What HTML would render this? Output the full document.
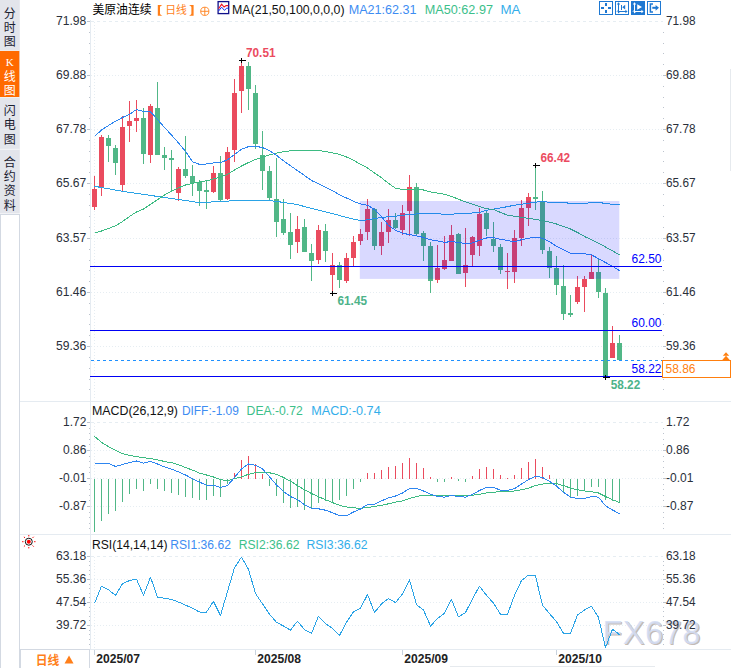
<!DOCTYPE html>
<html><head><meta charset="utf-8"><title>chart</title>
<style>html,body{margin:0;padding:0;background:#fff;overflow:hidden}svg{display:block}text{font-family:"Liberation Sans","Noto Sans CJK SC",sans-serif}</style></head>
<body>
<svg width="731" height="668" viewBox="0 0 731 668" font-family="Liberation Sans, Noto Sans CJK SC, sans-serif">
<rect width="731" height="668" fill="#fff"/>
<rect x="0" y="0" width="19.8" height="213.5" fill="#E3E5EB"/>
<rect x="0" y="50.8" width="19.3" height="46.2" fill="#FF6A00"/>
<rect x="0" y="50" width="19.8" height="0.8" fill="#F1F2F5"/>
<rect x="0" y="97" width="19.8" height="0.9" fill="#F1F2F5"/>
<rect x="0" y="148.8" width="19.8" height="1" fill="#F4F5F8"/>
<rect x="0.5" y="214" width="19" height="460" fill="#fff" stroke="#D3D9E2" shape-rendering="crispEdges"/>
<g font-size="12" fill="#1a2030" text-anchor="middle" style="font-family:'Liberation Sans','Noto Sans CJK SC',sans-serif">
<text x="9.8" y="17.6">分</text>
<text x="9.8" y="31.5">时</text>
<text x="9.8" y="45.6">图</text>
</g>
<g font-size="12" fill="#fff" text-anchor="middle" style="font-family:'Liberation Sans','Noto Sans CJK SC',sans-serif">
<text x="9.8" y="80.7">线</text>
<text x="9.8" y="94.8">图</text>
</g>
<text x="9.7" y="65.5" font-size="11" fill="#fff" text-anchor="middle" font-weight="normal" style="font-family:Liberation Serif,serif">K</text>
<g font-size="12" fill="#1a2030" text-anchor="middle" style="font-family:'Liberation Sans','Noto Sans CJK SC',sans-serif">
<text x="9.8" y="115.1">闪</text>
<text x="9.8" y="129.2">电</text>
<text x="9.8" y="143.7">图</text>
</g>
<g font-size="12" fill="#1a2030" text-anchor="middle" style="font-family:'Liberation Sans','Noto Sans CJK SC',sans-serif">
<text x="9.8" y="166.5">合</text>
<text x="9.8" y="180.9">约</text>
<text x="9.8" y="195.4">资</text>
<text x="9.8" y="209.8">料</text>
</g>
<g stroke="#E6EDF2" stroke-width="1" shape-rendering="crispEdges" fill="none">
<path d="M91 21.5H663" stroke-dasharray="3 3"/>
<path d="M91 75.5 H663" stroke-dasharray="1 2"/>
<path d="M91 129.5 H663" stroke-dasharray="1 2"/>
<path d="M91 183.5 H663" stroke-dasharray="1 2"/>
<path d="M91 238.5 H663" stroke-dasharray="1 2"/>
<path d="M91 292.5 H663" stroke-dasharray="1 2"/>
<path d="M91 346.5 H663" stroke-dasharray="1 2"/>
<path d="M94.5 22V400" stroke-dasharray="1 2"/>
<path d="M91 422.5H663" stroke-dasharray="3 3"/>
<path d="M91 450.5 H663" stroke-dasharray="1 2"/>
<path d="M91 478.5 H663" stroke-dasharray="1 2"/>
<path d="M91 506.5 H663" stroke-dasharray="1 2"/>
<path d="M94.5 423V534" stroke-dasharray="1 2"/>
<path d="M91 556.5H663" stroke-dasharray="3 3"/>
<path d="M91 579.5 H663" stroke-dasharray="1 2"/>
<path d="M91 602.5 H663" stroke-dasharray="1 2"/>
<path d="M91 625.5 H663" stroke-dasharray="1 2"/>
<path d="M94.5 557V649" stroke-dasharray="1 2"/>
</g>
<g font-size="32.5" font-weight="normal" letter-spacing="0.55"><text x="603.5" y="644.7" fill="#7A6458" fill-opacity="0.45">FX678</text><text x="602.4" y="643.6" fill="#D3DDF4" fill-opacity="0.88">FX678</text></g>
<g stroke="#E5EBF1" stroke-width="1" shape-rendering="crispEdges">
<path d="M90.5 20V650"/>
<path d="M20 401.5H731"/><path d="M20 534.5H731"/><path d="M20 649.5H731"/>
</g>
<g fill="#BCC3CD" shape-rendering="crispEdges">
<rect x="87" y="21" width="3" height="1"/>
<rect x="87" y="75" width="3" height="1"/>
<rect x="663" y="75" width="3" height="1"/>
<rect x="87" y="129" width="3" height="1"/>
<rect x="663" y="129" width="3" height="1"/>
<rect x="87" y="183" width="3" height="1"/>
<rect x="663" y="183" width="3" height="1"/>
<rect x="87" y="238" width="3" height="1"/>
<rect x="663" y="238" width="3" height="1"/>
<rect x="87" y="292" width="3" height="1"/>
<rect x="663" y="292" width="3" height="1"/>
<rect x="87" y="346" width="3" height="1"/>
<rect x="663" y="346" width="3" height="1"/>
<rect x="89" y="32" width="1" height="1"/>
<rect x="663" y="32" width="1" height="1"/>
<rect x="89" y="43" width="1" height="1"/>
<rect x="663" y="43" width="1" height="1"/>
<rect x="89" y="53" width="1" height="1"/>
<rect x="663" y="53" width="1" height="1"/>
<rect x="89" y="64" width="1" height="1"/>
<rect x="663" y="64" width="1" height="1"/>
<rect x="89" y="86" width="1" height="1"/>
<rect x="663" y="86" width="1" height="1"/>
<rect x="89" y="97" width="1" height="1"/>
<rect x="663" y="97" width="1" height="1"/>
<rect x="89" y="107" width="1" height="1"/>
<rect x="663" y="107" width="1" height="1"/>
<rect x="89" y="118" width="1" height="1"/>
<rect x="663" y="118" width="1" height="1"/>
<rect x="89" y="140" width="1" height="1"/>
<rect x="663" y="140" width="1" height="1"/>
<rect x="89" y="151" width="1" height="1"/>
<rect x="663" y="151" width="1" height="1"/>
<rect x="89" y="161" width="1" height="1"/>
<rect x="663" y="161" width="1" height="1"/>
<rect x="89" y="172" width="1" height="1"/>
<rect x="663" y="172" width="1" height="1"/>
<rect x="89" y="194" width="1" height="1"/>
<rect x="663" y="194" width="1" height="1"/>
<rect x="89" y="205" width="1" height="1"/>
<rect x="663" y="205" width="1" height="1"/>
<rect x="89" y="216" width="1" height="1"/>
<rect x="663" y="216" width="1" height="1"/>
<rect x="89" y="227" width="1" height="1"/>
<rect x="663" y="227" width="1" height="1"/>
<rect x="89" y="249" width="1" height="1"/>
<rect x="663" y="249" width="1" height="1"/>
<rect x="89" y="260" width="1" height="1"/>
<rect x="663" y="260" width="1" height="1"/>
<rect x="89" y="270" width="1" height="1"/>
<rect x="663" y="270" width="1" height="1"/>
<rect x="89" y="281" width="1" height="1"/>
<rect x="663" y="281" width="1" height="1"/>
<rect x="89" y="303" width="1" height="1"/>
<rect x="663" y="303" width="1" height="1"/>
<rect x="89" y="314" width="1" height="1"/>
<rect x="663" y="314" width="1" height="1"/>
<rect x="89" y="324" width="1" height="1"/>
<rect x="663" y="324" width="1" height="1"/>
<rect x="89" y="335" width="1" height="1"/>
<rect x="663" y="335" width="1" height="1"/>
<rect x="89" y="357" width="1" height="1"/>
<rect x="663" y="357" width="1" height="1"/>
<rect x="89" y="368" width="1" height="1"/>
<rect x="663" y="368" width="1" height="1"/>
<rect x="89" y="379" width="1" height="1"/>
<rect x="663" y="379" width="1" height="1"/>
<rect x="89" y="389" width="1" height="1"/>
<rect x="663" y="389" width="1" height="1"/>
<rect x="87" y="422" width="3" height="1"/>
<rect x="87" y="450" width="3" height="1"/>
<rect x="663" y="450" width="3" height="1"/>
<rect x="87" y="478" width="3" height="1"/>
<rect x="663" y="478" width="3" height="1"/>
<rect x="87" y="506" width="3" height="1"/>
<rect x="663" y="506" width="3" height="1"/>
<rect x="89" y="428" width="1" height="1"/>
<rect x="663" y="428" width="1" height="1"/>
<rect x="89" y="433" width="1" height="1"/>
<rect x="663" y="433" width="1" height="1"/>
<rect x="89" y="439" width="1" height="1"/>
<rect x="663" y="439" width="1" height="1"/>
<rect x="89" y="444" width="1" height="1"/>
<rect x="663" y="444" width="1" height="1"/>
<rect x="89" y="456" width="1" height="1"/>
<rect x="663" y="456" width="1" height="1"/>
<rect x="89" y="461" width="1" height="1"/>
<rect x="663" y="461" width="1" height="1"/>
<rect x="89" y="467" width="1" height="1"/>
<rect x="663" y="467" width="1" height="1"/>
<rect x="89" y="472" width="1" height="1"/>
<rect x="663" y="472" width="1" height="1"/>
<rect x="89" y="484" width="1" height="1"/>
<rect x="663" y="484" width="1" height="1"/>
<rect x="89" y="489" width="1" height="1"/>
<rect x="663" y="489" width="1" height="1"/>
<rect x="89" y="495" width="1" height="1"/>
<rect x="663" y="495" width="1" height="1"/>
<rect x="89" y="500" width="1" height="1"/>
<rect x="663" y="500" width="1" height="1"/>
<rect x="89" y="512" width="1" height="1"/>
<rect x="663" y="512" width="1" height="1"/>
<rect x="89" y="517" width="1" height="1"/>
<rect x="663" y="517" width="1" height="1"/>
<rect x="89" y="523" width="1" height="1"/>
<rect x="663" y="523" width="1" height="1"/>
<rect x="89" y="528" width="1" height="1"/>
<rect x="663" y="528" width="1" height="1"/>
<rect x="87" y="556" width="3" height="1"/>
<rect x="87" y="579" width="3" height="1"/>
<rect x="663" y="579" width="3" height="1"/>
<rect x="87" y="602" width="3" height="1"/>
<rect x="663" y="602" width="3" height="1"/>
<rect x="87" y="625" width="3" height="1"/>
<rect x="663" y="625" width="3" height="1"/>
<rect x="89" y="561" width="1" height="1"/>
<rect x="663" y="561" width="1" height="1"/>
<rect x="89" y="565" width="1" height="1"/>
<rect x="663" y="565" width="1" height="1"/>
<rect x="89" y="570" width="1" height="1"/>
<rect x="663" y="570" width="1" height="1"/>
<rect x="89" y="574" width="1" height="1"/>
<rect x="663" y="574" width="1" height="1"/>
<rect x="89" y="584" width="1" height="1"/>
<rect x="663" y="584" width="1" height="1"/>
<rect x="89" y="588" width="1" height="1"/>
<rect x="663" y="588" width="1" height="1"/>
<rect x="89" y="593" width="1" height="1"/>
<rect x="663" y="593" width="1" height="1"/>
<rect x="89" y="597" width="1" height="1"/>
<rect x="663" y="597" width="1" height="1"/>
<rect x="89" y="607" width="1" height="1"/>
<rect x="663" y="607" width="1" height="1"/>
<rect x="89" y="611" width="1" height="1"/>
<rect x="663" y="611" width="1" height="1"/>
<rect x="89" y="616" width="1" height="1"/>
<rect x="663" y="616" width="1" height="1"/>
<rect x="89" y="620" width="1" height="1"/>
<rect x="663" y="620" width="1" height="1"/>
<rect x="89" y="630" width="1" height="1"/>
<rect x="663" y="630" width="1" height="1"/>
<rect x="89" y="634" width="1" height="1"/>
<rect x="663" y="634" width="1" height="1"/>
<rect x="89" y="639" width="1" height="1"/>
<rect x="663" y="639" width="1" height="1"/>
<rect x="89" y="644" width="1" height="1"/>
<rect x="663" y="644" width="1" height="1"/>
</g>
<g shape-rendering="crispEdges">
<rect x="94" y="176.0" width="1" height="33.7" fill="#EA4B5E"/>
<rect x="92" y="189.0" width="5" height="17.5" fill="#EA4B5E"/>
<rect x="101" y="135.0" width="1" height="60.8" fill="#EA4B5E"/>
<rect x="99" y="136.7" width="5" height="50.8" fill="#EA4B5E"/>
<rect x="108" y="135.0" width="1" height="26.7" fill="#51B787"/>
<rect x="106" y="138.0" width="5" height="7.5" fill="#51B787"/>
<rect x="115" y="145.0" width="1" height="29.7" fill="#51B787"/>
<rect x="113" y="148.0" width="5" height="15.3" fill="#51B787"/>
<rect x="122" y="116.3" width="1" height="74.5" fill="#EA4B5E"/>
<rect x="120" y="127.0" width="5" height="57.7" fill="#EA4B5E"/>
<rect x="129" y="100.8" width="1" height="40.9" fill="#EA4B5E"/>
<rect x="127" y="120.8" width="5" height="5.0" fill="#EA4B5E"/>
<rect x="136" y="100.0" width="1" height="31.7" fill="#EA4B5E"/>
<rect x="134" y="118.3" width="5" height="2.5" fill="#EA4B5E"/>
<rect x="143" y="108.0" width="1" height="55.7" fill="#51B787"/>
<rect x="141" y="118.0" width="5" height="35.7" fill="#51B787"/>
<rect x="150" y="104.2" width="1" height="58.3" fill="#EA4B5E"/>
<rect x="148" y="106.2" width="5" height="48.3" fill="#EA4B5E"/>
<rect x="157" y="82.0" width="1" height="72.5" fill="#51B787"/>
<rect x="155" y="108.0" width="5" height="46.5" fill="#51B787"/>
<rect x="164" y="147.0" width="1" height="22.5" fill="#51B787"/>
<rect x="162" y="155.0" width="5" height="2.8" fill="#51B787"/>
<rect x="171" y="150.0" width="1" height="41.0" fill="#51B787"/>
<rect x="169" y="157.8" width="5" height="1.9" fill="#51B787"/>
<rect x="178" y="167.0" width="1" height="33.8" fill="#EA4B5E"/>
<rect x="176" y="168.8" width="5" height="23.7" fill="#EA4B5E"/>
<rect x="185" y="135.8" width="1" height="41.7" fill="#51B787"/>
<rect x="183" y="169.2" width="5" height="6.6" fill="#51B787"/>
<rect x="192" y="165.0" width="1" height="30.8" fill="#51B787"/>
<rect x="190" y="176.2" width="5" height="7.1" fill="#51B787"/>
<rect x="199" y="180.0" width="1" height="26.0" fill="#51B787"/>
<rect x="197" y="182.0" width="5" height="8.5" fill="#51B787"/>
<rect x="206" y="181.0" width="1" height="27.5" fill="#51B787"/>
<rect x="204" y="189.7" width="5" height="2.0" fill="#51B787"/>
<rect x="213" y="166.0" width="1" height="26.5" fill="#EA4B5E"/>
<rect x="211" y="173.0" width="5" height="18.5" fill="#EA4B5E"/>
<rect x="220" y="156.0" width="1" height="45.0" fill="#51B787"/>
<rect x="218" y="173.0" width="5" height="27.0" fill="#51B787"/>
<rect x="227" y="147.0" width="1" height="53.0" fill="#EA4B5E"/>
<rect x="225" y="152.0" width="5" height="47.0" fill="#EA4B5E"/>
<rect x="234" y="79.0" width="1" height="83.0" fill="#EA4B5E"/>
<rect x="232" y="92.5" width="5" height="57.0" fill="#EA4B5E"/>
<rect x="241" y="62.4" width="1" height="50.1" fill="#EA4B5E"/>
<rect x="239" y="66.0" width="5" height="24.5" fill="#EA4B5E"/>
<rect x="248" y="62.0" width="1" height="47.5" fill="#51B787"/>
<rect x="246" y="66.0" width="5" height="23.0" fill="#51B787"/>
<rect x="255" y="84.5" width="1" height="64.5" fill="#51B787"/>
<rect x="253" y="93.0" width="5" height="51.0" fill="#51B787"/>
<rect x="262" y="131.0" width="1" height="58.7" fill="#51B787"/>
<rect x="260" y="155.0" width="5" height="15.5" fill="#51B787"/>
<rect x="269" y="165.8" width="1" height="34.4" fill="#51B787"/>
<rect x="267" y="170.6" width="5" height="27.4" fill="#51B787"/>
<rect x="276" y="157.5" width="1" height="79.2" fill="#51B787"/>
<rect x="274" y="198.7" width="5" height="22.9" fill="#51B787"/>
<rect x="283" y="198.7" width="1" height="36.5" fill="#51B787"/>
<rect x="281" y="218.8" width="5" height="14.2" fill="#51B787"/>
<rect x="290" y="213.3" width="1" height="46.0" fill="#51B787"/>
<rect x="288" y="231.9" width="5" height="13.1" fill="#51B787"/>
<rect x="297" y="216.2" width="1" height="36.5" fill="#EA4B5E"/>
<rect x="295" y="228.6" width="5" height="13.2" fill="#EA4B5E"/>
<rect x="304" y="219.2" width="1" height="32.4" fill="#51B787"/>
<rect x="302" y="227.1" width="5" height="24.5" fill="#51B787"/>
<rect x="311" y="244.0" width="1" height="36.7" fill="#51B787"/>
<rect x="309" y="252.7" width="5" height="8.1" fill="#51B787"/>
<rect x="318" y="225.0" width="1" height="38.7" fill="#EA4B5E"/>
<rect x="316" y="230.2" width="5" height="29.8" fill="#EA4B5E"/>
<rect x="325" y="223.6" width="1" height="38.5" fill="#51B787"/>
<rect x="323" y="230.8" width="5" height="19.7" fill="#51B787"/>
<rect x="332" y="253.2" width="1" height="38.8" fill="#EA4B5E"/>
<rect x="330" y="265.2" width="5" height="9.5" fill="#EA4B5E"/>
<rect x="339" y="261.5" width="1" height="26.3" fill="#51B787"/>
<rect x="337" y="265.2" width="5" height="14.4" fill="#51B787"/>
<rect x="346" y="253.2" width="1" height="29.7" fill="#EA4B5E"/>
<rect x="344" y="258.2" width="5" height="22.5" fill="#EA4B5E"/>
<rect x="353" y="235.6" width="1" height="30.9" fill="#EA4B5E"/>
<rect x="351" y="241.8" width="5" height="16.4" fill="#EA4B5E"/>
<rect x="360" y="229.3" width="1" height="15.7" fill="#EA4B5E"/>
<rect x="358" y="234.1" width="5" height="7.0" fill="#EA4B5E"/>
<rect x="367" y="198.7" width="1" height="40.9" fill="#EA4B5E"/>
<rect x="365" y="209.0" width="5" height="22.9" fill="#EA4B5E"/>
<rect x="374" y="208.3" width="1" height="41.6" fill="#51B787"/>
<rect x="372" y="209.0" width="5" height="37.2" fill="#51B787"/>
<rect x="381" y="222.0" width="1" height="32.9" fill="#EA4B5E"/>
<rect x="379" y="231.9" width="5" height="14.3" fill="#EA4B5E"/>
<rect x="388" y="209.0" width="1" height="34.3" fill="#EA4B5E"/>
<rect x="386" y="219.9" width="5" height="12.0" fill="#EA4B5E"/>
<rect x="395" y="213.3" width="1" height="16.0" fill="#51B787"/>
<rect x="393" y="219.9" width="5" height="8.1" fill="#51B787"/>
<rect x="402" y="205.0" width="1" height="30.0" fill="#EA4B5E"/>
<rect x="400" y="213.0" width="5" height="17.0" fill="#EA4B5E"/>
<rect x="409" y="175.2" width="1" height="60.3" fill="#EA4B5E"/>
<rect x="407" y="187.2" width="5" height="23.8" fill="#EA4B5E"/>
<rect x="416" y="182.8" width="1" height="52.1" fill="#51B787"/>
<rect x="414" y="187.2" width="5" height="46.6" fill="#51B787"/>
<rect x="423" y="231.4" width="1" height="29.6" fill="#51B787"/>
<rect x="421" y="233.2" width="5" height="12.4" fill="#51B787"/>
<rect x="430" y="241.5" width="1" height="51.5" fill="#51B787"/>
<rect x="428" y="245.6" width="5" height="35.1" fill="#51B787"/>
<rect x="437" y="244.8" width="1" height="38.3" fill="#EA4B5E"/>
<rect x="435" y="268.2" width="5" height="12.0" fill="#EA4B5E"/>
<rect x="444" y="236.0" width="1" height="34.0" fill="#EA4B5E"/>
<rect x="442" y="260.1" width="5" height="8.7" fill="#EA4B5E"/>
<rect x="451" y="225.0" width="1" height="35.5" fill="#EA4B5E"/>
<rect x="449" y="234.9" width="5" height="25.6" fill="#EA4B5E"/>
<rect x="458" y="232.7" width="1" height="41.0" fill="#51B787"/>
<rect x="456" y="233.8" width="5" height="39.9" fill="#51B787"/>
<rect x="465" y="227.7" width="1" height="59.1" fill="#EA4B5E"/>
<rect x="463" y="264.9" width="5" height="7.7" fill="#EA4B5E"/>
<rect x="472" y="235.8" width="1" height="30.0" fill="#EA4B5E"/>
<rect x="470" y="236.9" width="5" height="17.7" fill="#EA4B5E"/>
<rect x="479" y="208.0" width="1" height="47.5" fill="#EA4B5E"/>
<rect x="477" y="213.5" width="5" height="32.1" fill="#EA4B5E"/>
<rect x="486" y="210.2" width="1" height="25.6" fill="#51B787"/>
<rect x="484" y="213.0" width="5" height="15.8" fill="#51B787"/>
<rect x="493" y="222.2" width="1" height="30.2" fill="#51B787"/>
<rect x="491" y="238.6" width="5" height="7.0" fill="#51B787"/>
<rect x="500" y="244.1" width="1" height="29.6" fill="#51B787"/>
<rect x="498" y="247.0" width="5" height="23.4" fill="#51B787"/>
<rect x="507" y="252.9" width="1" height="36.1" fill="#EA4B5E"/>
<rect x="505" y="271.0" width="5" height="1.0" fill="#EA4B5E"/>
<rect x="514" y="229.9" width="1" height="53.0" fill="#EA4B5E"/>
<rect x="512" y="238.0" width="5" height="33.5" fill="#EA4B5E"/>
<rect x="521" y="199.9" width="1" height="46.4" fill="#EA4B5E"/>
<rect x="519" y="208.0" width="5" height="29.5" fill="#EA4B5E"/>
<rect x="528" y="193.1" width="1" height="32.4" fill="#EA4B5E"/>
<rect x="526" y="197.0" width="5" height="10.6" fill="#EA4B5E"/>
<rect x="535" y="167.0" width="1" height="42.5" fill="#51B787"/>
<rect x="533" y="197.0" width="5" height="1.6" fill="#51B787"/>
<rect x="542" y="190.9" width="1" height="62.6" fill="#51B787"/>
<rect x="540" y="201.4" width="5" height="48.2" fill="#51B787"/>
<rect x="549" y="247.2" width="1" height="30.6" fill="#51B787"/>
<rect x="547" y="250.6" width="5" height="17.8" fill="#51B787"/>
<rect x="556" y="255.7" width="1" height="38.8" fill="#51B787"/>
<rect x="554" y="268.1" width="5" height="16.7" fill="#51B787"/>
<rect x="563" y="265.2" width="1" height="54.7" fill="#51B787"/>
<rect x="561" y="286.0" width="5" height="27.8" fill="#51B787"/>
<rect x="570" y="294.7" width="1" height="21.9" fill="#51B787"/>
<rect x="568" y="313.3" width="5" height="1.7" fill="#51B787"/>
<rect x="577" y="276.1" width="1" height="27.8" fill="#EA4B5E"/>
<rect x="575" y="287.0" width="5" height="15.4" fill="#EA4B5E"/>
<rect x="584" y="276.1" width="1" height="35.7" fill="#EA4B5E"/>
<rect x="582" y="279.0" width="5" height="7.6" fill="#EA4B5E"/>
<rect x="591" y="254.9" width="1" height="24.1" fill="#EA4B5E"/>
<rect x="589" y="271.7" width="5" height="7.3" fill="#EA4B5E"/>
<rect x="598" y="258.0" width="1" height="40.0" fill="#51B787"/>
<rect x="596" y="271.7" width="5" height="20.2" fill="#51B787"/>
<rect x="605" y="288.2" width="1" height="88.8" fill="#51B787"/>
<rect x="603" y="292.5" width="5" height="83.5" fill="#51B787"/>
<rect x="612" y="326.0" width="1" height="31.7" fill="#EA4B5E"/>
<rect x="610" y="342.9" width="5" height="14.8" fill="#EA4B5E"/>
<rect x="619" y="334.8" width="1" height="25.6" fill="#51B787"/>
<rect x="617" y="342.9" width="5" height="17.5" fill="#51B787"/>
</g>
<polyline fill="none" stroke="#2AA3E6" stroke-width="1.0" stroke-linejoin="round" shape-rendering="crispEdges" points="94.5,186.3 122.5,191.3 160.5,196.9 199.5,202.6 220.5,201.5 240.5,200.3 255.5,200.2 269.5,200.6 283.5,202.4 297.5,204.6 311.5,208.5 325.5,211.8 339.5,215.5 353.5,219.2 360.5,220.5 367.5,219.9 374.5,218.4 381.5,217.7 388.5,216.6 395.5,216.2 402.5,215.3 409.5,214.5 423.5,213.5 437.5,213.5 444.5,214.6 451.5,214.1 465.5,213.5 479.5,212.4 486.5,210.2 493.5,209.1 500.5,208.0 514.5,205.2 521.5,204.3 528.5,203.2 535.5,202.1 542.5,201.6 549.5,202.2 566.5,202.4 568.0,203.2 587.5,203.2 589.0,202.4 601.5,202.4 603.0,203.2 608.5,203.2 610.0,204.1 619.5,204.1"/>
<polyline fill="none" stroke="#3DBB82" stroke-width="1.0" stroke-linejoin="round" shape-rendering="crispEdges" points="94.5,233.3 101.5,231.0 108.5,228.5 115.5,225.8 122.5,221.5 129.5,216.5 136.5,212.0 143.5,209.0 150.5,204.3 157.5,199.8 164.5,195.0 171.5,191.0 178.5,187.8 185.5,185.0 192.5,183.4 199.5,182.0 206.5,180.8 213.5,179.0 220.5,177.0 227.5,174.5 234.5,170.0 241.5,166.0 248.5,162.5 255.5,159.5 262.5,157.0 269.5,154.8 276.5,153.2 283.5,151.6 290.5,150.9 297.5,150.2 304.5,150.2 311.5,150.2 318.5,150.4 325.5,151.5 332.5,152.9 339.5,154.4 346.5,157.0 353.5,160.3 360.5,164.2 367.5,168.0 374.5,173.0 381.5,177.8 388.5,183.3 395.5,188.3 402.5,189.3 409.5,189.1 416.5,189.0 423.5,190.0 430.5,192.0 437.5,193.1 444.5,194.2 451.5,196.4 458.5,199.2 465.5,201.9 472.5,204.3 479.5,206.5 486.5,208.7 493.5,209.5 500.5,212.4 507.5,215.2 514.5,216.3 521.5,217.4 528.5,218.3 535.5,219.4 542.5,220.5 549.5,222.2 556.5,224.0 563.5,226.5 570.5,229.0 577.5,232.5 584.5,236.5 591.5,239.8 598.5,243.2 605.5,247.0 612.5,250.8 619.5,254.9"/>
<polyline fill="none" stroke="#2E86F0" stroke-width="1.0" stroke-linejoin="round" shape-rendering="crispEdges" points="94.8,136.3 101.5,130.0 108.5,125.5 115.5,121.3 122.5,117.5 129.5,114.3 136.5,109.5 143.5,111.3 150.5,111.8 157.5,119.5 164.5,127.5 171.5,135.0 178.5,143.0 185.5,151.3 192.5,161.8 199.5,164.4 206.5,164.0 213.5,163.0 220.5,162.5 227.5,159.9 234.5,154.5 241.5,149.3 248.5,146.6 255.5,146.2 262.5,147.6 269.5,150.7 276.5,155.3 283.5,160.8 290.5,165.8 297.5,170.6 304.5,175.5 311.5,180.5 318.5,183.8 325.5,187.1 332.5,190.8 339.5,194.7 346.5,198.0 353.5,201.3 360.5,203.9 367.5,205.2 374.5,209.6 381.5,216.6 388.5,225.4 395.5,230.2 402.5,233.2 409.5,234.6 416.5,235.8 423.5,237.5 430.5,239.7 437.5,240.8 444.5,242.4 451.5,241.5 458.5,242.4 465.5,243.5 472.5,243.0 479.5,240.2 486.5,238.0 493.5,237.5 500.5,239.3 507.5,240.4 514.5,241.9 521.5,239.7 528.5,238.2 535.5,237.1 542.5,238.2 549.5,241.7 556.5,246.2 563.5,249.8 570.5,253.1 577.5,253.6 584.5,253.8 591.5,254.9 598.5,258.6 605.5,262.5 612.5,266.3 619.5,270.6"/>
<rect x="359.8" y="201" width="259.5" height="77.9" fill="#0000FF" fill-opacity="0.15"/>
<g stroke="#0000F5" stroke-width="1" shape-rendering="crispEdges">
<path d="M90 266.5H662"/><path d="M90 330.5H662"/><path d="M90 376.5H662"/>
</g>
<path d="M91 360.5H662" stroke="#1E90FF" stroke-width="1" stroke-dasharray="3 3" shape-rendering="crispEdges"/>
<path d="M239.0 60.5h7M241.5 58.0v5" stroke="#000" stroke-width="1" shape-rendering="crispEdges"/>
<path d="M330.0 293.5h7M332.5 291.0v5" stroke="#000" stroke-width="1" shape-rendering="crispEdges"/>
<path d="M533.0 165.5h7M535.5 163.0v5" stroke="#000" stroke-width="1" shape-rendering="crispEdges"/>
<path d="M603.0 377.5h7M605.5 375.0v5" stroke="#000" stroke-width="1" shape-rendering="crispEdges"/>
<text x="246" y="56.7" font-size="12" fill="#EB4B5F" text-anchor="start" font-weight="bold" textLength="29.5" lengthAdjust="spacingAndGlyphs" >70.51</text>
<text x="337.5" y="304.8" font-size="12" fill="#4DB38A" text-anchor="start" font-weight="bold" textLength="29.5" lengthAdjust="spacingAndGlyphs" >61.45</text>
<text x="540.5" y="162" font-size="12" fill="#EB4B5F" text-anchor="start" font-weight="bold" textLength="29.5" lengthAdjust="spacingAndGlyphs" >66.42</text>
<text x="610.7" y="388.5" font-size="12" fill="#4DB38A" text-anchor="start" font-weight="bold" textLength="29.5" lengthAdjust="spacingAndGlyphs" >58.22</text>
<text x="661.5" y="262.7" font-size="12" fill="#0000FF" text-anchor="end" font-weight="normal" textLength="30" lengthAdjust="spacingAndGlyphs" >62.50</text>
<text x="661.5" y="326.7" font-size="12" fill="#0000FF" text-anchor="end" font-weight="normal" textLength="30" lengthAdjust="spacingAndGlyphs" >60.00</text>
<text x="661.5" y="372.8" font-size="12" fill="#0000FF" text-anchor="end" font-weight="normal" textLength="30" lengthAdjust="spacingAndGlyphs" >58.22</text>
<text x="86.3" y="25.3" font-size="12" fill="#2A2F3A" text-anchor="end" font-weight="normal" textLength="30.3" lengthAdjust="spacingAndGlyphs" >71.98</text>
<text x="666" y="25.3" font-size="12" fill="#2A2F3A" text-anchor="start" font-weight="normal" textLength="29.5" lengthAdjust="spacingAndGlyphs" >71.98</text>
<text x="86.3" y="79.3" font-size="12" fill="#2A2F3A" text-anchor="end" font-weight="normal" textLength="30.3" lengthAdjust="spacingAndGlyphs" >69.88</text>
<text x="666" y="79.3" font-size="12" fill="#2A2F3A" text-anchor="start" font-weight="normal" textLength="29.5" lengthAdjust="spacingAndGlyphs" >69.88</text>
<text x="86.3" y="133.3" font-size="12" fill="#2A2F3A" text-anchor="end" font-weight="normal" textLength="30.3" lengthAdjust="spacingAndGlyphs" >67.78</text>
<text x="666" y="133.3" font-size="12" fill="#2A2F3A" text-anchor="start" font-weight="normal" textLength="29.5" lengthAdjust="spacingAndGlyphs" >67.78</text>
<text x="86.3" y="187.3" font-size="12" fill="#2A2F3A" text-anchor="end" font-weight="normal" textLength="30.3" lengthAdjust="spacingAndGlyphs" >65.67</text>
<text x="666" y="187.3" font-size="12" fill="#2A2F3A" text-anchor="start" font-weight="normal" textLength="29.5" lengthAdjust="spacingAndGlyphs" >65.67</text>
<text x="86.3" y="242.3" font-size="12" fill="#2A2F3A" text-anchor="end" font-weight="normal" textLength="30.3" lengthAdjust="spacingAndGlyphs" >63.57</text>
<text x="666" y="242.3" font-size="12" fill="#2A2F3A" text-anchor="start" font-weight="normal" textLength="29.5" lengthAdjust="spacingAndGlyphs" >63.57</text>
<text x="86.3" y="296.3" font-size="12" fill="#2A2F3A" text-anchor="end" font-weight="normal" textLength="30.3" lengthAdjust="spacingAndGlyphs" >61.46</text>
<text x="666" y="296.3" font-size="12" fill="#2A2F3A" text-anchor="start" font-weight="normal" textLength="29.5" lengthAdjust="spacingAndGlyphs" >61.46</text>
<text x="86.3" y="350.3" font-size="12" fill="#2A2F3A" text-anchor="end" font-weight="normal" textLength="30.3" lengthAdjust="spacingAndGlyphs" >59.36</text>
<text x="666" y="350.3" font-size="12" fill="#2A2F3A" text-anchor="start" font-weight="normal" textLength="29.5" lengthAdjust="spacingAndGlyphs" >59.36</text>
<text x="86.4" y="426.3" font-size="12" fill="#2A2F3A" text-anchor="end" font-weight="normal" >1.72</text>
<text x="666" y="426.3" font-size="12" fill="#2A2F3A" text-anchor="start" font-weight="normal" >1.72</text>
<text x="86.4" y="454.3" font-size="12" fill="#2A2F3A" text-anchor="end" font-weight="normal" >0.86</text>
<text x="666" y="454.3" font-size="12" fill="#2A2F3A" text-anchor="start" font-weight="normal" >0.86</text>
<text x="86.4" y="482.3" font-size="12" fill="#2A2F3A" text-anchor="end" font-weight="normal" >-0.01</text>
<text x="666" y="482.3" font-size="12" fill="#2A2F3A" text-anchor="start" font-weight="normal" >-0.01</text>
<text x="86.4" y="510.3" font-size="12" fill="#2A2F3A" text-anchor="end" font-weight="normal" >-0.87</text>
<text x="666" y="510.3" font-size="12" fill="#2A2F3A" text-anchor="start" font-weight="normal" >-0.87</text>
<text x="86.3" y="560.3" font-size="12" fill="#2A2F3A" text-anchor="end" font-weight="normal" textLength="30.3" lengthAdjust="spacingAndGlyphs" >63.18</text>
<text x="666" y="560.3" font-size="12" fill="#2A2F3A" text-anchor="start" font-weight="normal" textLength="29.5" lengthAdjust="spacingAndGlyphs" >63.18</text>
<text x="86.3" y="583.3" font-size="12" fill="#2A2F3A" text-anchor="end" font-weight="normal" textLength="30.3" lengthAdjust="spacingAndGlyphs" >55.36</text>
<text x="666" y="583.3" font-size="12" fill="#2A2F3A" text-anchor="start" font-weight="normal" textLength="29.5" lengthAdjust="spacingAndGlyphs" >55.36</text>
<text x="86.3" y="606.3" font-size="12" fill="#2A2F3A" text-anchor="end" font-weight="normal" textLength="30.3" lengthAdjust="spacingAndGlyphs" >47.54</text>
<text x="666" y="606.3" font-size="12" fill="#2A2F3A" text-anchor="start" font-weight="normal" textLength="29.5" lengthAdjust="spacingAndGlyphs" >47.54</text>
<text x="86.3" y="629.3" font-size="12" fill="#2A2F3A" text-anchor="end" font-weight="normal" textLength="30.3" lengthAdjust="spacingAndGlyphs" >39.72</text>
<text x="666" y="629.3" font-size="12" fill="#2A2F3A" text-anchor="start" font-weight="normal" textLength="29.5" lengthAdjust="spacingAndGlyphs" >39.72</text>
<rect x="662.5" y="360.5" width="68" height="17" fill="#fff" stroke="#FF7F0E" shape-rendering="crispEdges"/>
<text x="665.5" y="372.8" font-size="12" fill="#FF7F0E" text-anchor="start" font-weight="normal" textLength="30" lengthAdjust="spacingAndGlyphs" >58.86</text>
<path d="M726 352.3l3.2 3.4h-6.4zM726 355.8l4.2 4.6h-8.4z" fill="#FF7F0E"/>
<text x="92.4" y="14.4" font-size="12" fill="#000" text-anchor="start" font-weight="normal" textLength="59.2" lengthAdjust="spacingAndGlyphs" style="font-family:'Liberation Sans','Noto Sans CJK SC',sans-serif">美原油连续</text>
<text x="165.2" y="14" font-size="11" fill="#FF7F1A" text-anchor="start" font-weight="normal" textLength="21.6" lengthAdjust="spacingAndGlyphs" style="font-family:'Liberation Sans','Noto Sans CJK SC',sans-serif">日线</text>
<path d="M157.8 4.9h4.6c-1.3 0.5-2.2 1.2-2.4 2.2v6.4c0.2 1 1.1 1.7 2.4 2.2h-4.6z" fill="#FF7F1A"/>
<path d="M193.6 4.9h-4.6c1.3 0.5 2.2 1.2 2.4 2.2v6.4c-0.2 1-1.1 1.7-2.4 2.2h4.6z" fill="#FF7F1A"/>
<g stroke="#FF7F1A" fill="none" stroke-width="0.9"><circle cx="204.8" cy="11.3" r="4.1"/><path d="M200.7 11.3h8.2M204.8 7.2v8.2"/></g>
<rect x="218.1" y="1.6" width="10.6" height="12" fill="#fff" stroke="#10108A" stroke-width="1.3"/>
<polyline points="218.6,8.8 221.6,4.2 224.1,7 226.1,5.6 228.2,5.6" fill="none" stroke="#F01020" stroke-width="1.1"/>
<polyline points="218.6,11 221.6,7.2 224.5,10.4 226.5,8.2 228.2,8.2" fill="none" stroke="#1030F0" stroke-width="1"/>
<text x="232.1" y="14.3" font-size="12" fill="#111" text-anchor="start" font-weight="normal" textLength="112.5" lengthAdjust="spacingAndGlyphs" >MA(21,50,100,0,0,0)</text>
<text x="348.7" y="14.3" font-size="12" fill="#3D8CF2" text-anchor="start" font-weight="normal" textLength="67.9" lengthAdjust="spacingAndGlyphs" >MA21:62.31</text>
<text x="424.7" y="14.3" font-size="12" fill="#3CC08A" text-anchor="start" font-weight="normal" textLength="68.3" lengthAdjust="spacingAndGlyphs" >MA50:62.97</text>
<text x="500.5" y="14.3" font-size="12" fill="#33AEEA" text-anchor="start" font-weight="normal" textLength="20" lengthAdjust="spacingAndGlyphs" >MA</text>
<rect x="599.5" y="1.5" width="13" height="13" fill="#fff" stroke="#1E78D2" shape-rendering="crispEdges"/>
<rect x="615.5" y="1.5" width="13" height="13" fill="#fff" stroke="#1E78D2" shape-rendering="crispEdges"/>
<rect x="631.5" y="1.5" width="13" height="13" fill="#1E78D2" stroke="#1E78D2" shape-rendering="crispEdges"/>
<rect x="647.5" y="1.5" width="13" height="13" fill="#fff" stroke="#1E78D2" shape-rendering="crispEdges"/>
<g fill="#1E78D2" shape-rendering="crispEdges"><rect x="605" y="3" width="2" height="3"/><rect x="605" y="10" width="2" height="3"/><rect x="601" y="7" width="3" height="2"/><rect x="608" y="7" width="3" height="2"/></g>
<g stroke="#1E78D2" fill="none" stroke-width="1" shape-rendering="crispEdges"><path d="M618.5 3.5v9M617.5 11.5h9.5M621.5 5v4.5"/></g>
<path d="M618.5 2.3l1.7 2.2h-3.4zM618.5 13.4l1.7-2h-3.4zM627.6 11.5l-2.2-1.7v3.4zM616.4 11.5l2.2-1.7v3.4zM625.2 4.8v4.7l-3-2.35z" fill="#1E78D2"/>
<g stroke="#fff" fill="none" stroke-width="1" shape-rendering="crispEdges"><path d="M634.5 3.5v9M633.5 11.5h9.5"/></g>
<path d="M634.5 2.3l1.7 2.2h-3.4zM634.5 13.4l1.7-2h-3.4zM643.6 11.5l-2.2-1.7v3.4zM632.4 11.5l2.2-1.7v3.4zM637.2 4.2v5.6l4.8-2.8z" fill="#fff"/>
<g stroke="#1E78D2" fill="none" stroke-width="1.5"><path d="M653 4h-2.6v8h2.6"/><path d="M652.3 7.8h4.2" stroke-width="2"/></g><path d="M655.6 4.9v5.8l3.4-2.9z" fill="#1E78D2"/>
<g shape-rendering="crispEdges">
<rect x="94" y="478.5" width="1" height="53.9" fill="#51B787"/>
<rect x="101" y="478.5" width="1" height="42.1" fill="#51B787"/>
<rect x="108" y="478.5" width="1" height="35.2" fill="#51B787"/>
<rect x="115" y="478.5" width="1" height="32.2" fill="#51B787"/>
<rect x="122" y="478.5" width="1" height="23.1" fill="#51B787"/>
<rect x="129" y="478.5" width="1" height="15.0" fill="#51B787"/>
<rect x="136" y="478.5" width="1" height="10.1" fill="#51B787"/>
<rect x="143" y="478.5" width="1" height="12.0" fill="#51B787"/>
<rect x="150" y="478.5" width="1" height="5.6" fill="#51B787"/>
<rect x="157" y="478.5" width="1" height="10.1" fill="#51B787"/>
<rect x="164" y="478.5" width="1" height="12.0" fill="#51B787"/>
<rect x="171" y="478.5" width="1" height="14.3" fill="#51B787"/>
<rect x="178" y="478.5" width="1" height="16.2" fill="#51B787"/>
<rect x="185" y="478.5" width="1" height="18.2" fill="#51B787"/>
<rect x="192" y="478.5" width="1" height="19.9" fill="#51B787"/>
<rect x="199" y="478.5" width="1" height="21.2" fill="#51B787"/>
<rect x="206" y="478.5" width="1" height="21.2" fill="#51B787"/>
<rect x="213" y="478.5" width="1" height="17.5" fill="#51B787"/>
<rect x="220" y="478.5" width="1" height="18.2" fill="#51B787"/>
<rect x="227" y="478.5" width="1" height="5.5" fill="#51B787"/>
<rect x="234" y="473.3" width="1" height="5.2" fill="#EA4B5E"/>
<rect x="241" y="460.3" width="1" height="18.2" fill="#EA4B5E"/>
<rect x="248" y="456.1" width="1" height="22.4" fill="#EA4B5E"/>
<rect x="255" y="464.4" width="1" height="14.1" fill="#EA4B5E"/>
<rect x="262" y="473.8" width="1" height="4.7" fill="#EA4B5E"/>
<rect x="269" y="478.5" width="1" height="7.1" fill="#51B787"/>
<rect x="276" y="478.5" width="1" height="17.5" fill="#51B787"/>
<rect x="283" y="478.5" width="1" height="24.8" fill="#51B787"/>
<rect x="290" y="478.5" width="1" height="29.8" fill="#51B787"/>
<rect x="297" y="478.5" width="1" height="28.5" fill="#51B787"/>
<rect x="304" y="478.5" width="1" height="31.5" fill="#51B787"/>
<rect x="311" y="478.5" width="1" height="29.8" fill="#51B787"/>
<rect x="318" y="478.5" width="1" height="24.8" fill="#51B787"/>
<rect x="325" y="478.5" width="1" height="22.9" fill="#51B787"/>
<rect x="332" y="478.5" width="1" height="24.1" fill="#51B787"/>
<rect x="339" y="478.5" width="1" height="21.9" fill="#51B787"/>
<rect x="346" y="478.5" width="1" height="17.0" fill="#51B787"/>
<rect x="353" y="478.5" width="1" height="10.1" fill="#51B787"/>
<rect x="360" y="478.5" width="1" height="3.9" fill="#51B787"/>
<rect x="367" y="473.3" width="1" height="5.2" fill="#EA4B5E"/>
<rect x="374" y="473.3" width="1" height="5.2" fill="#EA4B5E"/>
<rect x="381" y="470.1" width="1" height="8.4" fill="#EA4B5E"/>
<rect x="388" y="467.2" width="1" height="11.3" fill="#EA4B5E"/>
<rect x="395" y="465.9" width="1" height="12.6" fill="#EA4B5E"/>
<rect x="402" y="463.2" width="1" height="15.3" fill="#EA4B5E"/>
<rect x="409" y="458.3" width="1" height="20.2" fill="#EA4B5E"/>
<rect x="416" y="463.2" width="1" height="15.3" fill="#EA4B5E"/>
<rect x="423" y="468.1" width="1" height="10.4" fill="#EA4B5E"/>
<rect x="430" y="477.0" width="1" height="1.5" fill="#EA4B5E"/>
<rect x="437" y="478.5" width="1" height="3.2" fill="#51B787"/>
<rect x="444" y="478.5" width="1" height="3.2" fill="#51B787"/>
<rect x="451" y="477.0" width="1" height="1.5" fill="#EA4B5E"/>
<rect x="458" y="478.5" width="1" height="2.2" fill="#51B787"/>
<rect x="465" y="478.5" width="1" height="3.2" fill="#51B787"/>
<rect x="472" y="475.8" width="1" height="2.7" fill="#EA4B5E"/>
<rect x="479" y="468.9" width="1" height="9.6" fill="#EA4B5E"/>
<rect x="486" y="466.9" width="1" height="11.6" fill="#EA4B5E"/>
<rect x="493" y="468.9" width="1" height="9.6" fill="#EA4B5E"/>
<rect x="500" y="475.0" width="1" height="3.5" fill="#EA4B5E"/>
<rect x="507" y="477.8" width="1" height="0.7" fill="#EA4B5E"/>
<rect x="514" y="475.0" width="1" height="3.5" fill="#EA4B5E"/>
<rect x="521" y="468.1" width="1" height="10.4" fill="#EA4B5E"/>
<rect x="528" y="462.0" width="1" height="16.5" fill="#EA4B5E"/>
<rect x="535" y="459.0" width="1" height="19.5" fill="#EA4B5E"/>
<rect x="542" y="466.9" width="1" height="11.6" fill="#EA4B5E"/>
<rect x="549" y="474.5" width="1" height="4.0" fill="#EA4B5E"/>
<rect x="556" y="478.5" width="1" height="6.4" fill="#51B787"/>
<rect x="563" y="478.5" width="1" height="13.8" fill="#51B787"/>
<rect x="570" y="478.5" width="1" height="18.7" fill="#51B787"/>
<rect x="577" y="478.5" width="1" height="17.0" fill="#51B787"/>
<rect x="584" y="478.5" width="1" height="12.5" fill="#51B787"/>
<rect x="591" y="478.5" width="1" height="8.1" fill="#51B787"/>
<rect x="598" y="478.5" width="1" height="8.1" fill="#51B787"/>
<rect x="605" y="478.5" width="1" height="21.2" fill="#51B787"/>
<rect x="612" y="478.5" width="1" height="22.9" fill="#51B787"/>
<rect x="619" y="478.5" width="1" height="24.4" fill="#51B787"/>
</g>
<polyline fill="none" stroke="#3DBB82" stroke-width="1.0" stroke-linejoin="round" shape-rendering="crispEdges" points="94.5,436.4 101.5,442.3 108.5,446.7 115.5,450.4 122.5,453.6 129.5,455.3 136.5,456.6 143.5,457.8 150.5,458.5 157.5,459.8 164.5,461.5 171.5,462.7 178.5,464.7 185.5,467.6 192.5,470.1 199.5,473.1 206.5,475.0 213.5,477.0 220.5,479.5 227.5,480.7 234.5,478.7 241.5,476.8 248.5,474.3 255.5,472.6 262.5,472.6 269.5,472.8 276.5,474.3 283.5,477.5 290.5,481.2 297.5,485.6 304.5,489.8 311.5,493.5 318.5,496.7 325.5,499.7 332.5,502.6 339.5,505.3 346.5,507.0 353.5,507.8 360.5,508.3 367.5,507.5 374.5,506.5 381.5,505.3 388.5,503.8 395.5,502.1 402.5,500.9 409.5,498.4 416.5,496.5 423.5,495.2 430.5,495.2 437.5,495.3 444.5,495.4 451.5,495.5 458.5,495.8 465.5,496.0 472.5,495.2 479.5,494.2 486.5,493.0 493.5,492.3 500.5,491.5 507.5,491.5 514.5,491.0 521.5,489.8 528.5,488.1 535.5,485.6 542.5,484.1 549.5,483.2 556.5,483.6 563.5,485.6 570.5,488.1 577.5,489.8 584.5,491.0 591.5,491.8 598.5,493.0 605.5,496.5 612.5,499.7 619.5,502.6"/>
<polyline fill="none" stroke="#2E86F0" stroke-width="1.0" stroke-linejoin="round" shape-rendering="crispEdges" points="94.5,463.2 101.5,463.2 108.5,463.4 115.5,466.4 122.5,464.5 129.5,462.5 136.5,461.0 143.5,463.2 150.5,461.5 157.5,464.0 164.5,466.9 171.5,469.2 178.5,471.8 185.5,475.0 192.5,478.7 199.5,482.0 206.5,485.4 213.5,485.4 220.5,487.3 227.5,485.6 234.5,477.5 241.5,468.9 248.5,464.0 255.5,465.2 262.5,468.9 269.5,476.8 276.5,484.9 283.5,491.5 290.5,496.5 297.5,499.7 304.5,504.6 311.5,508.3 318.5,508.8 325.5,510.2 332.5,512.7 339.5,515.7 346.5,515.7 353.5,512.0 360.5,509.0 367.5,504.6 374.5,504.1 381.5,500.9 388.5,497.9 395.5,496.0 402.5,493.0 409.5,488.6 416.5,488.6 423.5,491.0 430.5,494.2 437.5,496.5 444.5,497.2 451.5,495.5 458.5,496.5 465.5,497.2 472.5,494.2 479.5,490.5 486.5,487.3 493.5,487.3 500.5,490.3 507.5,490.5 514.5,488.6 521.5,484.1 528.5,479.5 535.5,476.3 542.5,477.5 549.5,481.2 556.5,486.1 563.5,492.3 570.5,497.2 577.5,498.4 584.5,498.4 591.5,496.5 598.5,497.2 605.5,505.8 612.5,510.0 619.5,513.7"/>
<text x="92" y="415.2" font-size="12" fill="#111" text-anchor="start" font-weight="normal" textLength="86" lengthAdjust="spacingAndGlyphs" >MACD(26,12,9)</text>
<text x="181.9" y="415.2" font-size="12" fill="#3D8CF2" text-anchor="start" font-weight="normal" textLength="57" lengthAdjust="spacingAndGlyphs" >DIFF:-1.09</text>
<text x="246.6" y="415.2" font-size="12" fill="#3CC08A" text-anchor="start" font-weight="normal" textLength="56.2" lengthAdjust="spacingAndGlyphs" >DEA:-0.72</text>
<text x="311.2" y="415.2" font-size="12" fill="#33AEEA" text-anchor="start" font-weight="normal" textLength="69.5" lengthAdjust="spacingAndGlyphs" >MACD:-0.74</text>
<polyline fill="none" stroke="#2AA3E6" stroke-width="1.0" stroke-linejoin="round" shape-rendering="crispEdges" points="94.5,603.4 101.5,586.1 108.5,589.8 115.5,595.3 122.5,583.7 129.5,580.5 136.5,579.2 143.5,595.3 150.5,577.3 157.5,597.0 164.5,598.2 171.5,599.4 178.5,602.1 185.5,605.1 192.5,608.3 199.5,612.0 206.5,612.0 213.5,601.4 220.5,615.4 227.5,591.6 234.5,567.7 241.5,557.1 248.5,569.4 255.5,593.5 262.5,603.9 269.5,614.2 276.5,622.3 283.5,626.0 290.5,630.2 297.5,621.1 304.5,629.7 311.5,633.4 318.5,616.2 325.5,623.6 332.5,628.5 339.5,635.4 346.5,622.3 353.5,611.8 360.5,608.3 367.5,594.5 374.5,612.5 381.5,603.9 388.5,598.5 395.5,602.6 402.5,594.0 409.5,580.0 416.5,604.6 423.5,610.0 430.5,626.0 437.5,618.6 444.5,613.2 451.5,599.4 458.5,616.9 465.5,612.5 472.5,598.9 479.5,586.1 486.5,595.3 493.5,603.1 500.5,614.2 507.5,614.2 514.5,595.3 521.5,580.5 528.5,575.1 535.5,576.0 542.5,605.1 549.5,613.7 556.5,621.6 563.5,633.4 570.5,633.4 577.5,615.0 584.5,610.0 591.5,606.3 598.5,617.4 605.5,647.7 612.5,629.2 619.5,634.7"/>
<text x="92" y="549" font-size="12" fill="#111" text-anchor="start" font-weight="normal" textLength="75.5" lengthAdjust="spacingAndGlyphs" >RSI(14,14,14)</text>
<text x="170.3" y="549" font-size="12" fill="#3D8CF2" text-anchor="start" font-weight="normal" textLength="60.6" lengthAdjust="spacingAndGlyphs" >RSI1:36.62</text>
<text x="238.7" y="549" font-size="12" fill="#3CC08A" text-anchor="start" font-weight="normal" textLength="60.7" lengthAdjust="spacingAndGlyphs" >RSI2:36.62</text>
<text x="306.5" y="549" font-size="12" fill="#33AEEA" text-anchor="start" font-weight="normal" textLength="61.1" lengthAdjust="spacingAndGlyphs" >RSI3:36.62</text>
<circle cx="28.8" cy="541.7" r="3.5" fill="none" stroke="#111" stroke-width="1"/><circle cx="28.8" cy="541.7" r="2" fill="#FF0000"/>
<g stroke="#FF0000" stroke-width="1" fill="none" transform="translate(28.8 541.7)"><path d="M0 -5.3v-1.4M0 5.3v1.4M-5.3 0h-1.4M5.3 0h1.4M-3.8 -3.8l-1.1 -1.1M3.8 3.8l1.1 1.1M-3.8 3.8l-1.1 1.1M3.8 -3.8l1.1 -1.1"/></g>
<rect x="20.5" y="649.5" width="69" height="20" fill="#fff" stroke="#D3D9E2" shape-rendering="crispEdges"/>
<text x="35.8" y="665" font-size="12" fill="#FF7F1A" text-anchor="start" font-weight="bold" textLength="23.6" lengthAdjust="spacingAndGlyphs" style="font-family:'Liberation Sans','Noto Sans CJK SC',sans-serif">日线</text>
<path d="M69 655.5l4.5 8h-9z" fill="#FF7F1A"/>
<rect x="94" y="650" width="1" height="5" fill="#C9D3DE" shape-rendering="crispEdges"/>
<text x="96.3" y="662.6" font-size="12" fill="#222" text-anchor="start" font-weight="bold" textLength="43.7" lengthAdjust="spacingAndGlyphs" >2025/07</text>
<rect x="255" y="650" width="1" height="5" fill="#C9D3DE" shape-rendering="crispEdges"/>
<text x="257.3" y="662.6" font-size="12" fill="#222" text-anchor="start" font-weight="bold" textLength="43.7" lengthAdjust="spacingAndGlyphs" >2025/08</text>
<rect x="402" y="650" width="1" height="5" fill="#C9D3DE" shape-rendering="crispEdges"/>
<text x="404.3" y="662.6" font-size="12" fill="#222" text-anchor="start" font-weight="bold" textLength="43.7" lengthAdjust="spacingAndGlyphs" >2025/09</text>
<rect x="556" y="650" width="1" height="5" fill="#C9D3DE" shape-rendering="crispEdges"/>
<text x="558.3" y="662.6" font-size="12" fill="#222" text-anchor="start" font-weight="bold" textLength="43.7" lengthAdjust="spacingAndGlyphs" >2025/10</text>
<path d="M450 666.5H655" stroke="#E6EAEE" stroke-width="1" shape-rendering="crispEdges"/>
<path d="M730.5 69V171" stroke="#E6EAEE" stroke-width="1" shape-rendering="crispEdges"/>
</svg>
</body></html>
